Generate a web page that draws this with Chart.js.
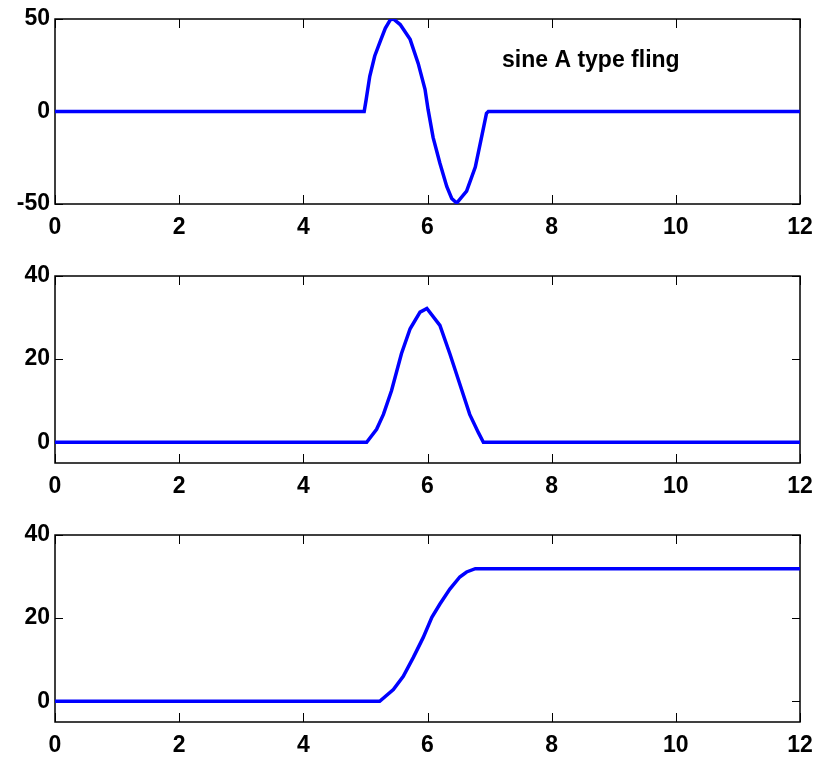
<!DOCTYPE html>
<html>
<head>
<meta charset="utf-8">
<script src="https://cdn.jsdelivr.net/npm/chart.js@4"></script>
<style>
  body { margin: 0; background: #fff; width: 819px; height: 761px; position: relative; overflow: hidden; }
  .box { position: absolute; left: 0; width: 819px; }
</style>
</head>
<body>
<div class="box" style="top:0px;height:250px"><canvas id="acc"></canvas></div>
<div class="box" style="top:257px;height:250px"><canvas id="vel"></canvas></div>
<div class="box" style="top:516px;height:245px"><canvas id="disp"></canvas></div>
<script>
// values
const accT = [0, 4.98, 5.01, 5.07, 5.15, 5.24, 5.32, 5.40, 5.45, 5.56, 5.72, 5.85, 5.96, 6.01, 6.09, 6.20, 6.31, 6.39, 6.47, 6.63, 6.77, 6.87, 6.95, 6.98, 12];
const accV = [0, 0, 6, 19, 30, 38, 45, 49.5, 50, 47, 39, 26, 12, 1, -14, -28, -40.5, -47, -49.5, -43, -30, -14, -1, 0, 0];

const velT = [0, 5.02, 5.18, 5.29, 5.42, 5.58, 5.72, 5.88, 5.99, 6.20, 6.36, 6.52, 6.68, 6.82, 6.90, 12];
const velV = [0, 0, 3.1, 6.7, 12.4, 21.3, 27.3, 31.3, 32.2, 28.1, 21.3, 14, 6.7, 2.3, 0, 0];

const dispT = [0, 5.23, 5.45, 5.61, 5.77, 5.93, 6.07, 6.20, 6.36, 6.52, 6.63, 6.77, 12];
const dispV = [0, 0, 2.8, 6, 10.5, 15.3, 20.2, 23.4, 27, 29.9, 31.1, 31.9, 31.9];

const xTicks = [0, 2, 4, 6, 8, 10, 12];
const accTicks = [-50, 0, 50];
const velTicks = [0, 20, 40];
const dispTicks = [0, 20, 40];

const noteText = 'sine A type fling';
const noteX = 7.2;
const noteY = 24;

const font = { family: 'Arial, "Liberation Sans", sans-serif', size: 23, weight: 'bold' };

// MATLAB style box with inward ticks on all four sides
const matlabBox = {
  id: 'matlabBox',
  beforeDatasetsDraw(chart) {
    const { ctx, chartArea: a, scales } = chart;
    ctx.save();
    ctx.strokeStyle = '#000';
    ctx.lineWidth = 1.5;
    ctx.strokeRect(a.left, a.top, a.right - a.left, a.bottom - a.top);
    ctx.lineWidth = 1;
    ctx.beginPath();
    scales.x.ticks.forEach(t => {
      const px = Math.round(scales.x.getPixelForValue(t.value)) + 0.5;
      ctx.moveTo(px, a.bottom); ctx.lineTo(px, a.bottom - 9);
      ctx.moveTo(px, a.top); ctx.lineTo(px, a.top + 9);
    });
    scales.y.ticks.forEach(t => {
      const py = Math.round(scales.y.getPixelForValue(t.value)) + 0.5;
      ctx.moveTo(a.left, py); ctx.lineTo(a.left + 8, py);
      ctx.moveTo(a.right, py); ctx.lineTo(a.right - 8, py);
    });
    ctx.stroke();
    ctx.restore();
  },
  afterDatasetsDraw(chart, args, opts) {
    if (!opts.text) return;
    const { ctx, scales } = chart;
    ctx.save();
    ctx.fillStyle = '#000';
    ctx.font = 'bold 23px Arial, "Liberation Sans", sans-serif';
    ctx.textAlign = 'left';
    ctx.textBaseline = 'alphabetic';
    ctx.fillText(opts.text, scales.x.getPixelForValue(opts.x), scales.y.getPixelForValue(opts.y));
    ctx.restore();
  }
};

function makeChart(id, ts, vs, yMin, yMax, yTicks, xHeight, note) {
  return new Chart(document.getElementById(id), {
    type: 'line',
    data: {
      datasets: [{
        data: ts.map((t, i) => ({ x: t, y: vs[i] })),
        borderColor: '#0000ff',
        borderWidth: 3.5,
        pointRadius: 0,
        tension: 0,
        fill: false
      }]
    },
    options: {
      responsive: true,
      maintainAspectRatio: false,
      animation: false,
      layout: { padding: { top: 19, right: 19, left: 0, bottom: 0 } },
      plugins: {
        legend: { display: false },
        tooltip: { enabled: false },
        matlabBox: note || {}
      },
      scales: {
        x: {
          type: 'linear',
          min: 0, max: 12,
          afterBuildTicks: s => { s.ticks = xTicks.map(v => ({ value: v })); },
          afterFit: s => { s.height = xHeight; s.paddingLeft = 0; s.paddingRight = 0; },
          grid: { display: false, drawTicks: false },
          border: { display: false },
          ticks: { color: '#000', font: font, padding: 10, maxRotation: 0 }
        },
        y: {
          type: 'linear',
          min: yMin, max: yMax,
          afterBuildTicks: s => { s.ticks = yTicks.map(v => ({ value: v })); },
          afterFit: s => { s.width = 55; s.paddingTop = 0; s.paddingBottom = 0; },
          grid: { display: false, drawTicks: false },
          border: { display: false },
          ticks: { color: '#000', font: font, padding: 5 }
        }
      }
    },
    plugins: [matlabBox]
  });
}

makeChart('acc', accT, accV, -50, 50, accTicks, 46, { text: noteText, x: noteX, y: noteY });
makeChart('vel', velT, velV, -5, 40, velTicks, 44, null);
makeChart('disp', dispT, dispV, -5, 40, dispTicks, 39, null);
</script>
</body>
</html>
